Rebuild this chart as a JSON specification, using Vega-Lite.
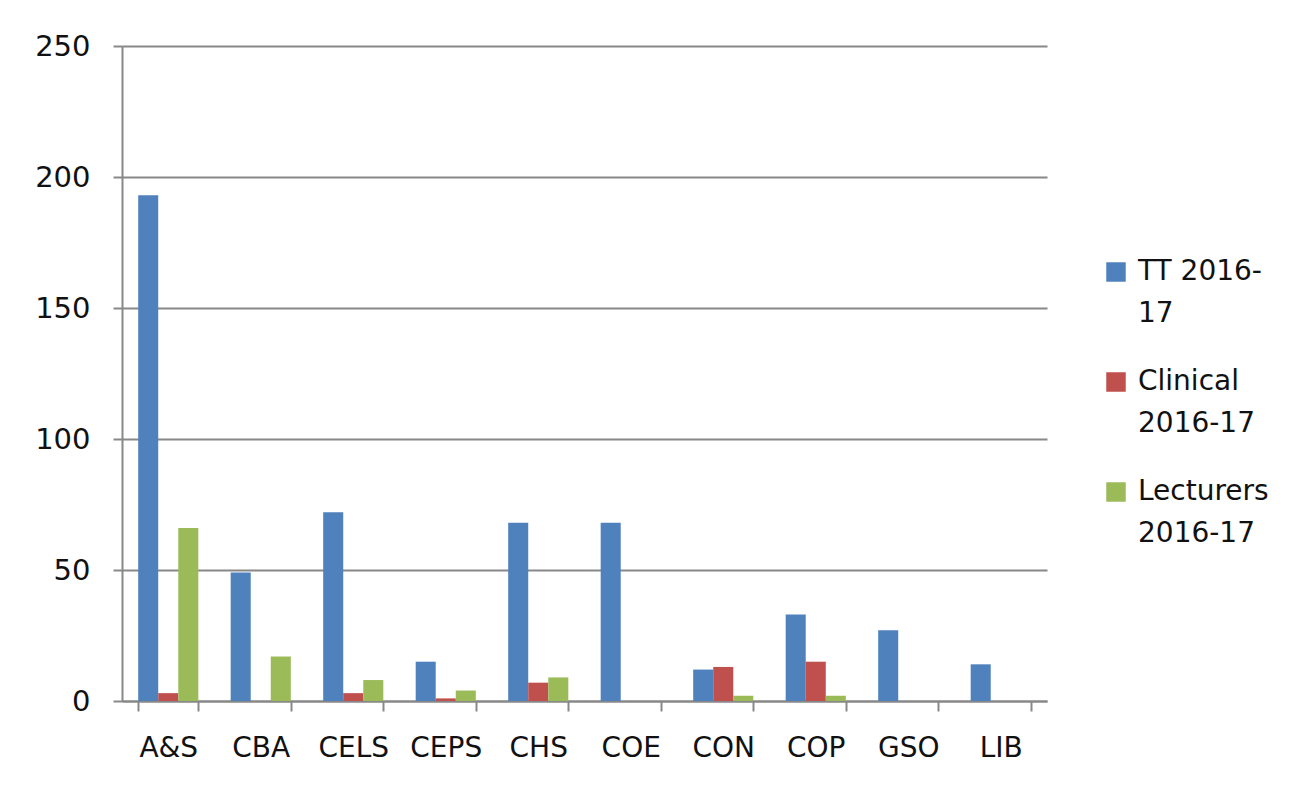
{
  "$schema": "https://vega.github.io/schema/vega-lite/v6.json",
  "width": 925,
  "height": 655,
  "autosize": {"type": "none"},
  "padding": {"left": 122, "top": 46, "right": 256, "bottom": 87},
  "background": "#ffffff",
  "data": {
    "values": [
      {"college": "A&S", "series": "TT 2016-17", "value": 193},
      {"college": "A&S", "series": "Clinical 2016-17", "value": 3},
      {"college": "A&S", "series": "Lecturers 2016-17", "value": 66},
      {"college": "CBA", "series": "TT 2016-17", "value": 49},
      {"college": "CBA", "series": "Clinical 2016-17", "value": 0},
      {"college": "CBA", "series": "Lecturers 2016-17", "value": 17},
      {"college": "CELS", "series": "TT 2016-17", "value": 72},
      {"college": "CELS", "series": "Clinical 2016-17", "value": 3},
      {"college": "CELS", "series": "Lecturers 2016-17", "value": 8},
      {"college": "CEPS", "series": "TT 2016-17", "value": 15},
      {"college": "CEPS", "series": "Clinical 2016-17", "value": 1},
      {"college": "CEPS", "series": "Lecturers 2016-17", "value": 4},
      {"college": "CHS", "series": "TT 2016-17", "value": 68},
      {"college": "CHS", "series": "Clinical 2016-17", "value": 7},
      {"college": "CHS", "series": "Lecturers 2016-17", "value": 9},
      {"college": "COE", "series": "TT 2016-17", "value": 68},
      {"college": "COE", "series": "Clinical 2016-17", "value": 0},
      {"college": "COE", "series": "Lecturers 2016-17", "value": 0},
      {"college": "CON", "series": "TT 2016-17", "value": 12},
      {"college": "CON", "series": "Clinical 2016-17", "value": 13},
      {"college": "CON", "series": "Lecturers 2016-17", "value": 2},
      {"college": "COP", "series": "TT 2016-17", "value": 33},
      {"college": "COP", "series": "Clinical 2016-17", "value": 15},
      {"college": "COP", "series": "Lecturers 2016-17", "value": 2},
      {"college": "GSO", "series": "TT 2016-17", "value": 27},
      {"college": "GSO", "series": "Clinical 2016-17", "value": 0},
      {"college": "GSO", "series": "Lecturers 2016-17", "value": 0},
      {"college": "LIB", "series": "TT 2016-17", "value": 14},
      {"college": "LIB", "series": "Clinical 2016-17", "value": 0},
      {"college": "LIB", "series": "Lecturers 2016-17", "value": 0}
    ]
  },
  "mark": {"type": "bar"},
  "encoding": {
    "x": {
      "field": "college",
      "type": "nominal",
      "sort": null,
      "scale": {"paddingInner": 0.35, "paddingOuter": 0.175},
      "axis": {
        "title": null,
        "labelAngle": 0,
        "labelFont": "DejaVu Sans",
        "labelFontSize": 28,
        "labelColor": "#111111",
        "labelPadding": 23,
        "tickBand": "extent",
        "tickSize": 10,
        "tickColor": "#888888",
        "tickWidth": 2,
        "domainColor": "#888888",
        "domainWidth": 2
      }
    },
    "xOffset": {
      "field": "series",
      "type": "nominal",
      "sort": ["TT 2016-17", "Clinical 2016-17", "Lecturers 2016-17"],
      "scale": {"paddingInner": 0, "paddingOuter": 0}
    },
    "y": {
      "field": "value",
      "type": "quantitative",
      "scale": {"domain": [0, 250], "nice": false},
      "axis": {
        "title": null,
        "values": [0, 50, 100, 150, 200, 250],
        "labelFont": "DejaVu Sans",
        "labelFontSize": 29,
        "labelColor": "#111111",
        "labelPadding": 23,
        "tickSize": 9,
        "tickColor": "#888888",
        "tickWidth": 2,
        "domainColor": "#888888",
        "domainWidth": 2,
        "grid": true,
        "gridColor": "#888888",
        "gridWidth": 2
      }
    },
    "color": {
      "field": "series",
      "type": "nominal",
      "sort": ["TT 2016-17", "Clinical 2016-17", "Lecturers 2016-17"],
      "scale": {
        "domain": ["TT 2016-17", "Clinical 2016-17", "Lecturers 2016-17"],
        "range": ["#4F81BD", "#C0504D", "#9BBB59"]
      },
      "legend": {
        "title": null,
        "orient": "none",
        "legendX": 980,
        "legendY": 212,
        "symbolType": "square",
        "symbolSize": 380,
        "symbolStrokeWidth": 0,
        "labelFont": "DejaVu Sans",
        "labelFontSize": 28,
        "labelColor": "#111111",
        "labelOffset": 8,
        "labelLimit": 300,
        "rowPadding": 40,
        "labelExpr": "datum.label == 'TT 2016-17' ? ['TT 2016-', '17'] : datum.label == 'Clinical 2016-17' ? ['Clinical', '2016-17'] : ['Lecturers', '2016-17']",
        "encode": {
          "labels": {"update": {"lineHeight": {"value": 42}}}
        }
      }
    }
  },
  "config": {
    "view": {"stroke": null}
  }
}
